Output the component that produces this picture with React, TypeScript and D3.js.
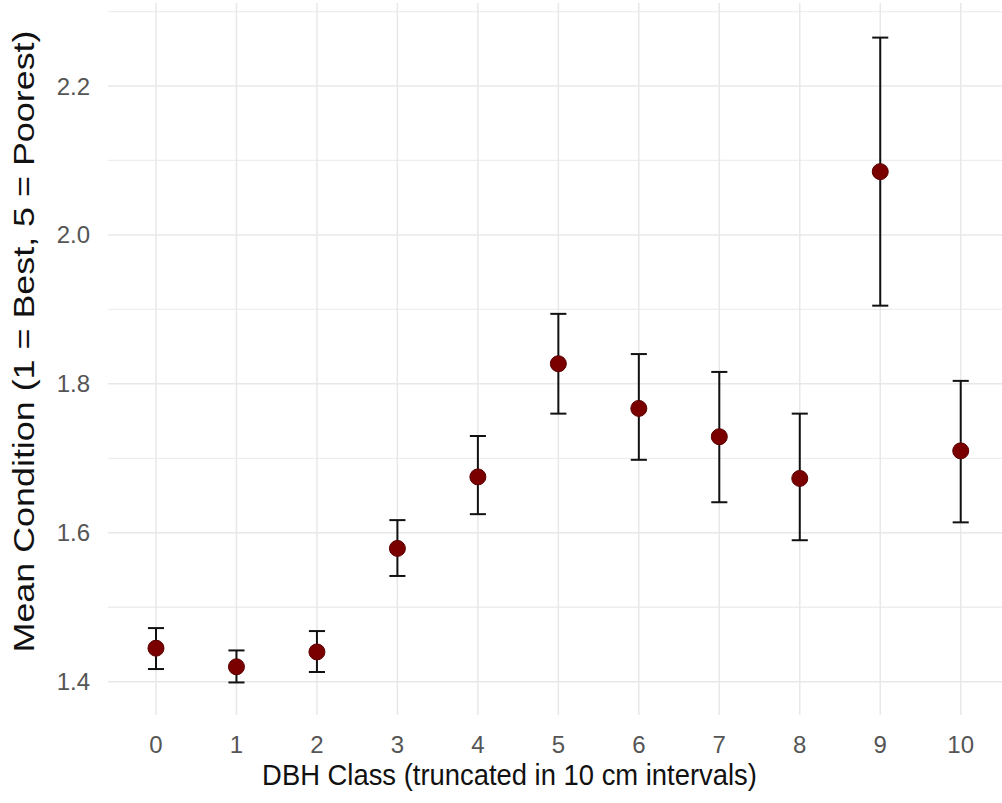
import * as d3 from "d3";
import { useEffect, useRef } from "react";

const dbhClasses = [0, 1, 2, 3, 4, 5, 6, 7, 8, 9, 10];
const meanCondition = [1.445, 1.42, 1.44, 1.579, 1.675, 1.827, 1.767, 1.729, 1.673, 2.085, 1.71];
const upper = [1.472, 1.442, 1.468, 1.617, 1.73, 1.894, 1.84, 1.816, 1.76, 2.265, 1.804];
const lower = [1.417, 1.399, 1.413, 1.542, 1.625, 1.76, 1.698, 1.641, 1.59, 1.905, 1.614];
const yMajor = [1.4, 1.6, 1.8, 2.0, 2.2];
const yMinor = [1.5, 1.7, 1.9, 2.1, 2.3];

const App = () => {
  const svgRef = useRef<SVGSVGElement | null>(null);

  useEffect(() => {
    const svg = d3.select(svgRef.current).attr("width", 1002).attr("height", 803);
    svg.selectAll("*").remove();

    const panelTop = 3;
    const panelBottom = 715;
    const x = d3.scaleLinear().domain([-0.6, 10.6]).range([107.7, 1009]);
    const y = d3.scaleLinear().domain([1.4, 2.2]).range([681.7, 86]);

    const grid = svg.append("g");
    grid
      .selectAll(".minor")
      .data(yMinor)
      .enter()
      .append("line")
      .attr("x1", x(-0.6))
      .attr("x2", 1002)
      .attr("y1", (d) => y(d))
      .attr("y2", (d) => y(d))
      .attr("stroke", "#eeeeee")
      .attr("stroke-width", 1.3);
    grid
      .selectAll(".major")
      .data(yMajor)
      .enter()
      .append("line")
      .attr("x1", x(-0.6))
      .attr("x2", 1002)
      .attr("y1", (d) => y(d))
      .attr("y2", (d) => y(d))
      .attr("stroke", "#e8e8e8")
      .attr("stroke-width", 1.5);
    grid
      .selectAll(".vert")
      .data(dbhClasses)
      .enter()
      .append("line")
      .attr("x1", (d) => x(d))
      .attr("x2", (d) => x(d))
      .attr("y1", panelTop)
      .attr("y2", panelBottom)
      .attr("stroke", "#e8e8e8")
      .attr("stroke-width", 1.5);

    const font = "'Liberation Sans', Arial, sans-serif";

    // tick labels
    svg
      .append("g")
      .selectAll("text")
      .data(yMajor)
      .enter()
      .append("text")
      .attr("x", 90)
      .attr("y", (d) => y(d) + 8.5)
      .attr("text-anchor", "end")
      .attr("font-family", font)
      .attr("font-size", 24)
      .attr("fill", "#555")
      .text((d) => d3.format(".1f")(d));

    svg
      .append("g")
      .selectAll("text")
      .data(dbhClasses)
      .enter()
      .append("text")
      .attr("x", (d) => x(d))
      .attr("y", 753)
      .attr("text-anchor", "middle")
      .attr("font-family", font)
      .attr("font-size", 24)
      .attr("fill", "#555")
      .text((d) => d);

    // error bars
    const bars = svg
      .append("g")
      .selectAll("g")
      .data(dbhClasses)
      .enter()
      .append("g");
    const half = 0.1;
    bars
      .append("line")
      .attr("x1", (d) => x(d))
      .attr("x2", (d) => x(d))
      .attr("y1", (d, i) => y(upper[i]))
      .attr("y2", (d, i) => y(lower[i]));
    bars
      .append("line")
      .attr("x1", (d) => x(d - half))
      .attr("x2", (d) => x(d + half))
      .attr("y1", (d, i) => y(upper[i]))
      .attr("y2", (d, i) => y(upper[i]));
    bars
      .append("line")
      .attr("x1", (d) => x(d - half))
      .attr("x2", (d) => x(d + half))
      .attr("y1", (d, i) => y(lower[i]))
      .attr("y2", (d, i) => y(lower[i]));
    bars.selectAll("line").attr("stroke", "#111").attr("stroke-width", 2);

    // points
    svg
      .append("g")
      .selectAll("circle")
      .data(dbhClasses)
      .enter()
      .append("circle")
      .attr("cx", (d) => x(d))
      .attr("cy", (d, i) => y(meanCondition[i]))
      .attr("r", 8)
      .attr("fill", "#7a0000")
      .attr("stroke", "#5a0000")
      .attr("stroke-width", 1);

    // axis titles
    svg
      .append("text")
      .attr("transform", "translate(509.5, 785) scale(1, 1.1)")
      .attr("text-anchor", "middle")
      .attr("font-family", font)
      .attr("font-size", 27.4)
      .attr("fill", "#111")
      .text("DBH Class (truncated in 10 cm intervals)");

    svg
      .append("text")
      .attr("transform", "translate(34, 341.5) rotate(-90)")
      .attr("text-anchor", "middle")
      .attr("font-family", font)
      .attr("font-size", 29)
      .attr("textLength", 622)
      .attr("lengthAdjust", "spacingAndGlyphs")
      .attr("fill", "#111")
      .text("Mean Condition (1 = Best, 5 = Poorest)");
  }, []);

  return (
    <div>
      <svg ref={svgRef} style={{ position: "absolute", left: 0, top: 0, background: "#fff" }}></svg>
    </div>
  );
};

export default App;
